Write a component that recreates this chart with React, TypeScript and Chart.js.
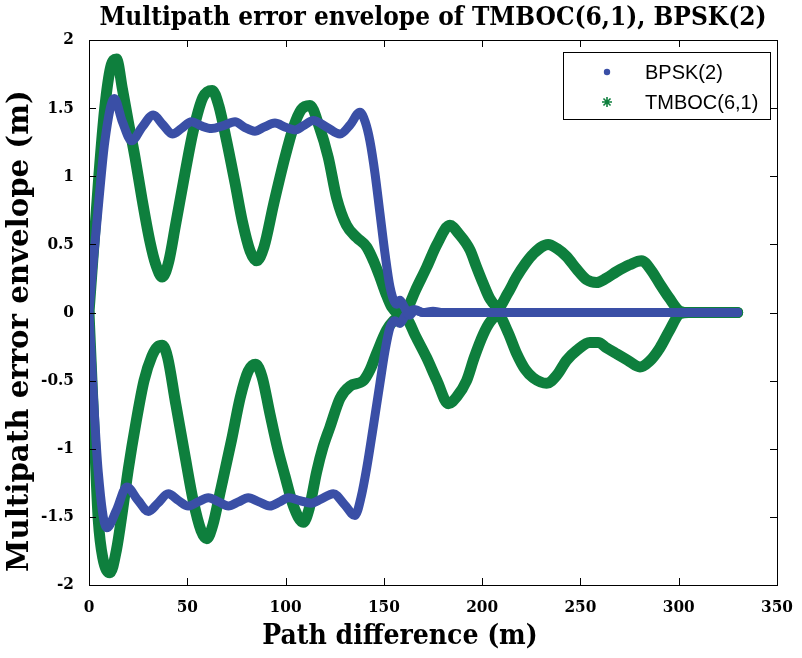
import React, { useEffect, useRef } from 'react';
import { Chart, registerables } from 'chart.js';

Chart.register(...registerables);

// ---------- data ----------
const chartTitle = 'Multipath error envelope of TMBOC(6,1), BPSK(2)';
const xAxisTitle = 'Path difference (m)';
const yAxisTitle = 'Multipath error envelope (m)';
const seriesNames = ['BPSK(2)', 'TMBOC(6,1)'];

const xTicks = [0, 50, 100, 150, 200, 250, 300, 350];
const xTickLabels = ['0', '50', '100', '150', '200', '250', '300', '350'];
const yTicks = [-2, -1.5, -1, -0.5, 0, 0.5, 1, 1.5, 2];
const yTickLabels = ['-2', '-1.5', '-1', '-0.5', '0', '0.5', '1', '1.5', '2'];

// BPSK(2) upper envelope
const bpskUpperX = [0, 2, 4.7, 8.1, 12.9, 17, 21.7, 27, 32.7, 37.5, 42.4, 47, 52.2, 57, 62.4, 68, 74.3, 79, 84.4, 89, 94.6, 100, 104.8, 109, 114.1, 121, 127.7, 133, 137.8, 140.5, 142.9, 145.5, 148, 150.6, 153.1, 156.5, 158.2, 160, 163, 166, 170, 175, 180, 200, 250, 300, 330];
const bpskUpperY = [0, 0.35, 0.77, 1.26, 1.57, 1.4, 1.26, 1.36, 1.45, 1.38, 1.31, 1.35, 1.4, 1.37, 1.35, 1.37, 1.4, 1.36, 1.33, 1.36, 1.39, 1.36, 1.34, 1.37, 1.41, 1.36, 1.31, 1.38, 1.47, 1.4, 1.26, 1.02, 0.73, 0.43, 0.19, 0.06, 0.09, 0.05, -0.02, 0.02, 0, 0.01, 0, 0, 0, 0, 0];

// BPSK(2) lower envelope
const bpskLowerX = [0, 2, 4.7, 9, 14, 19.2, 25, 30.2, 35, 40.3, 45.5, 50.5, 55.5, 60.7, 66, 70.9, 76, 81, 86.5, 92, 97, 101.4, 107.3, 113, 118, 124.3, 130, 135.3, 138.5, 141.3, 144.6, 148, 150.6, 153.1, 155.5, 158.2, 161, 165, 170, 180, 200, 250, 300, 330];
const bpskLowerY = [0, -0.55, -1.17, -1.58, -1.45, -1.28, -1.38, -1.46, -1.4, -1.33, -1.38, -1.42, -1.39, -1.36, -1.39, -1.42, -1.39, -1.36, -1.39, -1.42, -1.39, -1.36, -1.38, -1.4, -1.37, -1.33, -1.41, -1.49, -1.35, -1.14, -0.84, -0.52, -0.28, -0.11, -0.06, -0.08, -0.02, 0.02, 0, 0, 0, 0, 0, 0];

// TMBOC(6,1) envelope, branch A (positive at short delays)
const tmbocAX = [0, 2, 5.1, 8, 11, 14, 17, 20, 23.4, 27, 31, 34, 37.3, 40.5, 44, 48.8, 53, 58, 62.7, 66, 70, 74.3, 78, 82, 85.3, 89, 94, 99.7, 104, 108, 112.4, 117, 121.7, 126, 131, 136.2, 141.3, 145, 148, 151, 154, 158, 162, 166, 171.7, 177, 182.8, 187, 192.1, 196, 200.6, 204, 208.2, 213, 217.5, 222, 226, 232.8, 238, 243, 248, 254.8, 259, 263.3, 268, 274, 280.3, 285, 290.4, 295, 300.6, 305, 315, 325, 330];
const tmbocAY = [0, 0.4, 1.02, 1.5, 1.8, 1.86, 1.64, 1.4, 1.14, 0.83, 0.52, 0.35, 0.26, 0.37, 0.64, 1.02, 1.33, 1.58, 1.63, 1.52, 1.26, 0.95, 0.67, 0.45, 0.38, 0.48, 0.8, 1.14, 1.36, 1.49, 1.52, 1.37, 1.14, 0.84, 0.64, 0.55, 0.48, 0.37, 0.26, 0.14, 0.04, -0.02, -0.05, -0.17, -0.33, -0.5, -0.67, -0.62, -0.5, -0.33, -0.16, -0.07, -0.02, -0.14, -0.3, -0.42, -0.48, -0.52, -0.46, -0.35, -0.28, -0.22, -0.22, -0.26, -0.3, -0.35, -0.4, -0.36, -0.26, -0.14, -0.01, 0, 0, 0, 0];

// TMBOC(6,1) envelope, branch B (negative at short delays)
const tmbocBX = [0, 1.5, 3, 4.7, 7, 10.7, 14, 17, 20, 24, 28, 32, 35, 37.3, 40, 44, 48.8, 53, 57, 59.9, 63, 67, 72.6, 77, 81, 84.8, 88, 92, 96, 99.7, 104, 109, 112, 115.8, 119, 122.6, 127.7, 132.8, 139.6, 143, 146.3, 151.4, 155, 158.2, 162, 166, 171.7, 177, 183.6, 188, 193.8, 197, 200.6, 204, 208.2, 213, 217.5, 222, 226, 233.6, 238, 243, 248, 253.2, 258.2, 263, 268.4, 275, 281.1, 286, 290.4, 295, 300.6, 305, 315, 325, 330];
const tmbocBY = [0, -0.5, -1.0, -1.52, -1.8, -1.91, -1.74, -1.46, -1.15, -0.8, -0.5, -0.32, -0.25, -0.24, -0.33, -0.66, -1.05, -1.38, -1.6, -1.66, -1.56, -1.3, -0.93, -0.62, -0.43, -0.38, -0.47, -0.74, -1.0, -1.2, -1.42, -1.54, -1.44, -1.17, -0.99, -0.84, -0.63, -0.54, -0.5, -0.42, -0.3, -0.13, -0.06, -0.03, 0.03, 0.16, 0.33, 0.5, 0.64, 0.58, 0.46, 0.34, 0.21, 0.1, 0.04, 0.14, 0.26, 0.36, 0.43, 0.5, 0.47, 0.41, 0.32, 0.24, 0.22, 0.25, 0.3, 0.35, 0.38, 0.31, 0.21, 0.11, 0.01, 0, 0, 0, 0];

// ---------- styles ----------
const BLUE = '#3a4fa6';
const GREEN = '#0e7f3d';
const HEAVY = "'DejaVu Serif Condensed', 'DejaVu Serif', serif";

const toPoints = (xs: number[], ys: number[]) => xs.map((x, i) => ({ x, y: ys[i] }));

const lineDs = (label: string, xs: number[], ys: number[], color: string, width: number) => ({
  label,
  data: toPoints(xs, ys),
  borderColor: color,
  backgroundColor: color,
  borderWidth: width,
  pointRadius: 0,
  borderJoinStyle: 'round' as const,
  borderCapStyle: 'round' as const,
  cubicInterpolationMode: 'monotone' as const,
  fill: false,
});

const decorPlugin = {
  id: 'decor',
  afterDatasetsDraw(chart: any) {
    const { ctx, chartArea: a, scales } = chart;
    const xs = scales.x;
    const ys = scales.y;
    ctx.save();
    ctx.strokeStyle = '#000';
    ctx.lineWidth = 1;
    ctx.strokeRect(Math.round(a.left) + 0.5, Math.round(a.top) + 0.5, Math.round(a.right - a.left), Math.round(a.bottom - a.top));
    const L = 7;
    ctx.beginPath();
    xTicks.forEach((v) => {
      const p = Math.round(xs.getPixelForValue(v)) + 0.5;
      ctx.moveTo(p, a.bottom); ctx.lineTo(p, a.bottom - L);
      ctx.moveTo(p, a.top); ctx.lineTo(p, a.top + L);
    });
    yTicks.forEach((v) => {
      const p = Math.round(ys.getPixelForValue(v)) + 0.5;
      ctx.moveTo(a.left, p); ctx.lineTo(a.left + L, p);
      ctx.moveTo(a.right, p); ctx.lineTo(a.right - L, p);
    });
    ctx.stroke();

    // legend box
    const lx = 563, ly = 52, lw = 207, lh = 67;
    ctx.fillStyle = '#fff';
    ctx.fillRect(lx, ly, lw, lh);
    ctx.strokeRect(lx + 0.5, ly + 0.5, lw, lh);
    ctx.fillStyle = BLUE;
    ctx.beginPath();
    ctx.arc(607, 72, 3.2, 0, Math.PI * 2);
    ctx.fill();
    ctx.strokeStyle = GREEN;
    ctx.lineWidth = 1.6;
    ctx.beginPath();
    const cx = 607, cy = 102, r = 5;
    for (let k = 0; k < 4; k++) {
      const ang = (k * Math.PI) / 4;
      ctx.moveTo(cx - r * Math.cos(ang), cy - r * Math.sin(ang));
      ctx.lineTo(cx + r * Math.cos(ang), cy + r * Math.sin(ang));
    }
    ctx.stroke();
    ctx.fillStyle = '#000';
    ctx.font = "20px 'Liberation Sans', Arial, sans-serif";
    ctx.textAlign = 'left';
    ctx.textBaseline = 'middle';
    ctx.fillText(seriesNames[0], 645, 73);
    ctx.fillText(seriesNames[1], 645, 103);

    // axis titles
    ctx.font = `bold 28px ${HEAVY}`;
    ctx.textAlign = 'center';
    ctx.fillText(xAxisTitle, 400, 637);
    ctx.save();
    ctx.translate(20, 331);
    ctx.rotate(-Math.PI / 2);
    ctx.scale(1.12, 1);
    ctx.font = `bold 29px ${HEAVY}`;
    ctx.fillText(yAxisTitle, 0, 0);
    ctx.restore();
    ctx.restore();
  },
};

export default function App() {
  const ref = useRef<HTMLCanvasElement | null>(null);
  useEffect(() => {
    document.body.style.margin = '0';
    const canvas = ref.current;
    if (!canvas) return;
    const chart = new Chart(canvas, {
      type: 'line',
      data: {
        datasets: [
          lineDs(seriesNames[0], bpskUpperX, bpskUpperY, BLUE, 9),
          lineDs(seriesNames[0] + ' lower', bpskLowerX, bpskLowerY, BLUE, 9),
          lineDs(seriesNames[1], tmbocAX, tmbocAY, GREEN, 11),
          lineDs(seriesNames[1] + ' B', tmbocBX, tmbocBY, GREEN, 11),
        ],
      },
      options: {
        responsive: false,
        animation: false,
        devicePixelRatio: 1,
        layout: { padding: { left: 0, right: 25, top: 0, bottom: 0 } },
        plugins: {
          legend: { display: false },
          tooltip: { enabled: false },
          title: {
            display: true,
            text: chartTitle,
            fullSize: false,
            color: '#000',
            font: { family: HEAVY, weight: 'bold', size: 26, lineHeight: 1.2 },
            padding: { top: 3, bottom: 5.8 },
          },
        },
        scales: {
          x: {
            type: 'linear',
            min: 0,
            max: 350,
            grid: { display: false },
            border: { display: false },
            afterBuildTicks: (s: any) => { s.ticks = xTicks.map((v) => ({ value: v })); },
            afterFit: (s: any) => { s.height = 73; },
            ticks: {
              color: '#000',
              padding: 4,
              maxRotation: 0,
              font: { family: HEAVY, weight: 'bold', size: 17 },
              callback: (v: any) => xTickLabels[xTicks.indexOf(Number(v))] ?? '',
            },
          },
          y: {
            type: 'linear',
            min: -2,
            max: 2,
            grid: { display: false },
            border: { display: false },
            afterBuildTicks: (s: any) => { s.ticks = yTicks.map((v) => ({ value: v })); },
            afterFit: (s: any) => { s.width = 89; },
            ticks: {
              color: '#000',
              padding: 7,
              font: { family: HEAVY, weight: 'bold', size: 17 },
              callback: (v: any) => yTickLabels[yTicks.indexOf(Number(v))] ?? '',
            },
          },
        },
      },
      plugins: [decorPlugin],
    });
    return () => chart.destroy();
  }, []);
  return <canvas ref={ref} width={802} height={658} style={{ display: 'block', width: 802, height: 658 }} />;
}
